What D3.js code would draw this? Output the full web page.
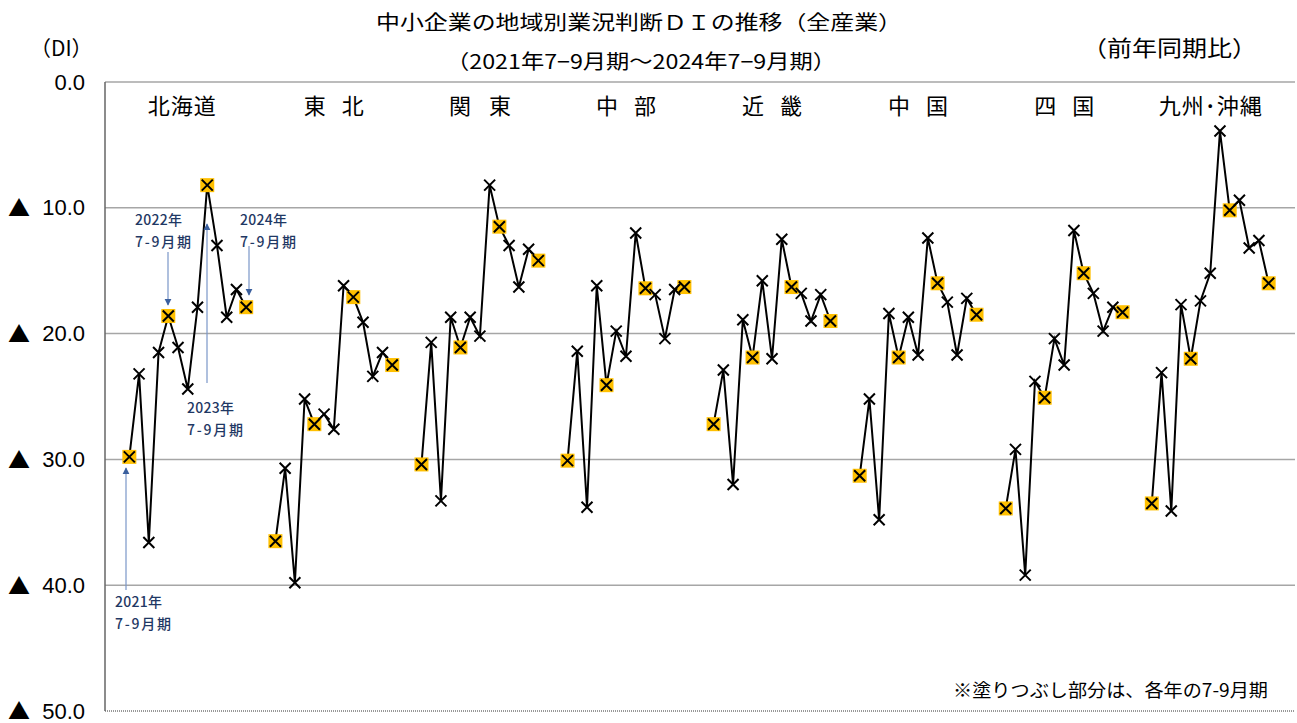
<!DOCTYPE html>
<html lang="ja">
<head>
<meta charset="utf-8">
<script src="https://cdn.jsdelivr.net/npm/d3@7/dist/d3.min.js"></script>
<style>
html, body { margin: 0; padding: 0; background: #fff; }
#chart { width: 1297px; height: 723px; }
text { font-family: "Noto Sans CJK JP", "Noto Sans", sans-serif; }
</style>
</head>
<body>
<div id="chart"></div>
<script>
// 地域名（表示用）
var regions = ["北海道", "東北", "関東", "中部", "近畿", "中国", "四国", "九州･沖縄"];

// 2021年7-9月期 ～ 2024年7-9月期（13期）のDI（▲の値）
var hokkaido = [29.8, 23.2, 36.6, 21.5, 18.6, 21.1, 24.4, 17.9, 8.2, 13.0, 18.7, 16.5, 17.9];
var tohoku   = [36.5, 30.7, 39.8, 25.2, 27.2, 26.4, 27.6, 16.2, 17.1, 19.1, 23.4, 21.5, 22.5];
var kanto    = [30.4, 20.7, 33.3, 18.7, 21.1, 18.7, 20.2, 8.2, 11.5, 13.0, 16.3, 13.3, 14.2];
var chubu    = [30.1, 21.4, 33.8, 16.2, 24.1, 19.8, 21.8, 12.0, 16.4, 16.9, 20.4, 16.5, 16.3];
var kinki    = [27.2, 22.9, 32.0, 18.9, 21.9, 15.8, 22.0, 12.5, 16.3, 16.8, 19.0, 16.9, 19.0];
var chugoku  = [31.3, 25.2, 34.8, 18.4, 21.9, 18.7, 21.7, 12.4, 16.0, 17.5, 21.7, 17.2, 18.5];
var shikoku  = [33.9, 29.2, 39.2, 23.8, 25.1, 20.4, 22.5, 11.8, 15.2, 16.8, 19.8, 17.9, 18.3];
var kyushu   = [33.5, 23.1, 34.1, 17.7, 22.0, 17.4, 15.2, 3.9, 10.2, 9.4, 13.2, 12.6, 16.0];
var series = [hokkaido, tohoku, kanto, chubu, kinki, chugoku, shikoku, kyushu];

// 7-9月期（塗りつぶし）の位置
var highlightIdx = [0, 4, 8, 12];

// 軸の目盛
var yTicks = [0, 10, 20, 30, 40, 50];

// 北海道の注記
var notes = [
    {idx: 0, year: "2021年"},
    {idx: 4, year: "2022年"},
    {idx: 8, year: "2023年"},
    {idx: 12, year: "2024年"}
];

var width = 1297, height = 723;
var margin = {left: 105, top: 82, right: 4, bottom: 12};
var plotRight = 1293;

var svg = d3.select("#chart").append("svg")
    .attr("width", width)
    .attr("height", height);

// 1地域 = 13期 + 空き2 / 左右に空き2
var slotsPerGroup = 15;
var totalSlots = 2 + regions.length * 13 + (regions.length - 1) * 2 + 2;
var xScale = d3.scaleLinear().domain([0, totalSlots]).range([margin.left, plotRight]);
var yScale = d3.scaleLinear().domain([0, 50]).range([margin.top, height - margin.bottom]);

function xPos(g, i) { return xScale(2 + g * slotsPerGroup + i + 0.5); }

// グリッド線
svg.append("g").selectAll("line")
    .data(yTicks.filter(function(d){ return d < 50; }))
    .enter().append("line")
    .attr("x1", margin.left).attr("x2", 1295)
    .attr("y1", function(d){ return yScale(d); })
    .attr("y2", function(d){ return yScale(d); })
    .attr("stroke", "#a6a6a6")
    .attr("stroke-width", 1.5);

// 下端（点線）と左軸
svg.append("line")
    .attr("x1", margin.left).attr("x2", 1295)
    .attr("y1", yScale(50)).attr("y2", yScale(50))
    .attr("stroke", "#333").attr("stroke-width", 1).attr("stroke-dasharray", "1,1");
svg.append("line")
    .attr("x1", margin.left).attr("x2", margin.left)
    .attr("y1", yScale(0)).attr("y2", yScale(50))
    .attr("stroke", "#666").attr("stroke-width", 1.5);

// y軸ラベル
var yAxis = d3.axisLeft(yScale)
    .tickValues(yTicks)
    .tickSize(0)
    .tickPadding(20)
    .tickFormat(function(d){ return d === 0 ? "0.0" : d.toFixed(1); });
var yAxisG = svg.append("g")
    .attr("transform", "translate(" + margin.left + ",0)")
    .call(yAxis);
yAxisG.select(".domain").remove();
yAxisG.selectAll("text")
    .style("font-family", "'Liberation Sans', Arial, sans-serif")
    .style("font-size", "22px")
    .attr("fill", "#000");
// ▲ 記号
yAxisG.selectAll(".tick").filter(function(d){ return d !== 0; })
    .append("text")
    .attr("x", -97).attr("dy", "0.36em")
    .attr("text-anchor", "start")
    .style("font-family", "'Noto Sans CJK JP', sans-serif")
    .style("font-size", "22px")
    .attr("fill", "#000")
    .text("▲");

// タイトル
svg.append("text").attr("x", 376).attr("y", 30)
    .attr("textLength", 526).attr("lengthAdjust", "spacingAndGlyphs")
    .style("font-size", "20px")
    .text("中小企業の地域別業況判断ＤＩの推移（全産業）");
svg.append("text").attr("x", 446).attr("y", 69)
    .attr("textLength", 390).attr("lengthAdjust", "spacingAndGlyphs")
    .style("font-size", "20px")
    .text("（2021年7−9月期～2024年7−9月期）");
svg.append("text").attr("x", 30).attr("y", 56)
    .style("font-size", "21px")
    .text("（DI）");
svg.append("text").attr("x", 1082).attr("y", 56)
    .attr("textLength", 175).attr("lengthAdjust", "spacingAndGlyphs")
    .style("font-size", "22px")
    .text("（前年同期比）");

// 地域名
var labelLen = [68, 60, 62, 60, 60, 60, 60, 103];
svg.append("g").selectAll("text")
    .data(regions)
    .enter().append("text")
    .attr("x", function(d, g){ return (xPos(g, 0) + xPos(g, 12)) / 2 + (g === 0 ? -6 : 0) - labelLen[g] / 2; })
    .attr("y", 114)
    .attr("textLength", function(d, g){ return labelLen[g]; })
    .attr("lengthAdjust", "spacing")
    .style("font-size", "22px")
    .text(function(d){ return d; });

// 折れ線
var line = d3.line()
    .x(function(d){ return d.x; })
    .y(function(d){ return yScale(d.v); });

series.forEach(function(vals, g){
    var pts = vals.map(function(v, i){ return {x: xPos(g, i), v: v, i: i}; });
    var grp = svg.append("g");
    grp.append("path")
        .datum(pts)
        .attr("d", line)
        .attr("fill", "none")
        .attr("stroke", "#000")
        .attr("stroke-width", 2);

    grp.selectAll("rect")
        .data(pts.filter(function(p){ return highlightIdx.indexOf(p.i) >= 0; }))
        .enter().append("rect")
        .attr("x", function(p){ return p.x - 7; })
        .attr("y", function(p){ return yScale(p.v) - 7; })
        .attr("width", 14).attr("height", 14)
        .attr("fill", "#ffc000");

    grp.selectAll(".mark").data(pts).enter().append("path")
        .attr("class", "mark")
        .attr("d", function(p){
            var x = p.x, y = yScale(p.v), s = 5.5;
            return "M" + (x - s) + "," + (y - s) + "L" + (x + s) + "," + (y + s) +
                   "M" + (x - s) + "," + (y + s) + "L" + (x + s) + "," + (y - s);
        })
        .attr("stroke", "#000")
        .attr("stroke-width", 2)
        .attr("fill", "none");
});

// 注記（矢印）
var defs = svg.append("defs");
defs.append("marker")
    .attr("id", "arr")
    .attr("viewBox", "0 0 10 10")
    .attr("refX", 9).attr("refY", 5)
    .attr("markerWidth", 7).attr("markerHeight", 8)
    .attr("markerUnits", "userSpaceOnUse")
    .attr("orient", "auto")
    .append("path").attr("d", "M0,0L10,5L0,10z").attr("fill", "#3a5f9e");

var noteCfg = [
    {lx: 126, y1: 590, y2: 468, tx: 115, ty: 607},
    {lx: 168, y1: 252, y2: 305, tx: 135, ty: 225},
    {lx: 207, y1: 383, y2: 224, tx: 187, ty: 413},
    {lx: 249, y1: 246, y2: 295, tx: 240, ty: 225}
];
notes.forEach(function(n, k){
    var c = noteCfg[k];
    svg.append("line")
        .attr("x1", c.lx).attr("x2", c.lx)
        .attr("y1", c.y1).attr("y2", c.y2)
        .attr("stroke", "#7a96c8").attr("stroke-width", 1.2)
        .attr("marker-end", "url(#arr)");
    var t = svg.append("text")
        .attr("x", c.tx).attr("y", c.ty)
        .attr("fill", "#1f3864")
        .style("font-size", "14px")
        .style("font-weight", "500");
    t.append("tspan").attr("x", c.tx).attr("textLength", 47).text(n.year);
    t.append("tspan").attr("x", c.tx).attr("dy", 22).attr("textLength", 56).text("7-9月期");
});

// 脚注
svg.append("text").attr("x", 953).attr("y", 697)
    .attr("textLength", 315).attr("lengthAdjust", "spacingAndGlyphs")
    .style("font-size", "18px")
    .text("※塗りつぶし部分は、各年の7-9月期");
</script>
</body>
</html>
